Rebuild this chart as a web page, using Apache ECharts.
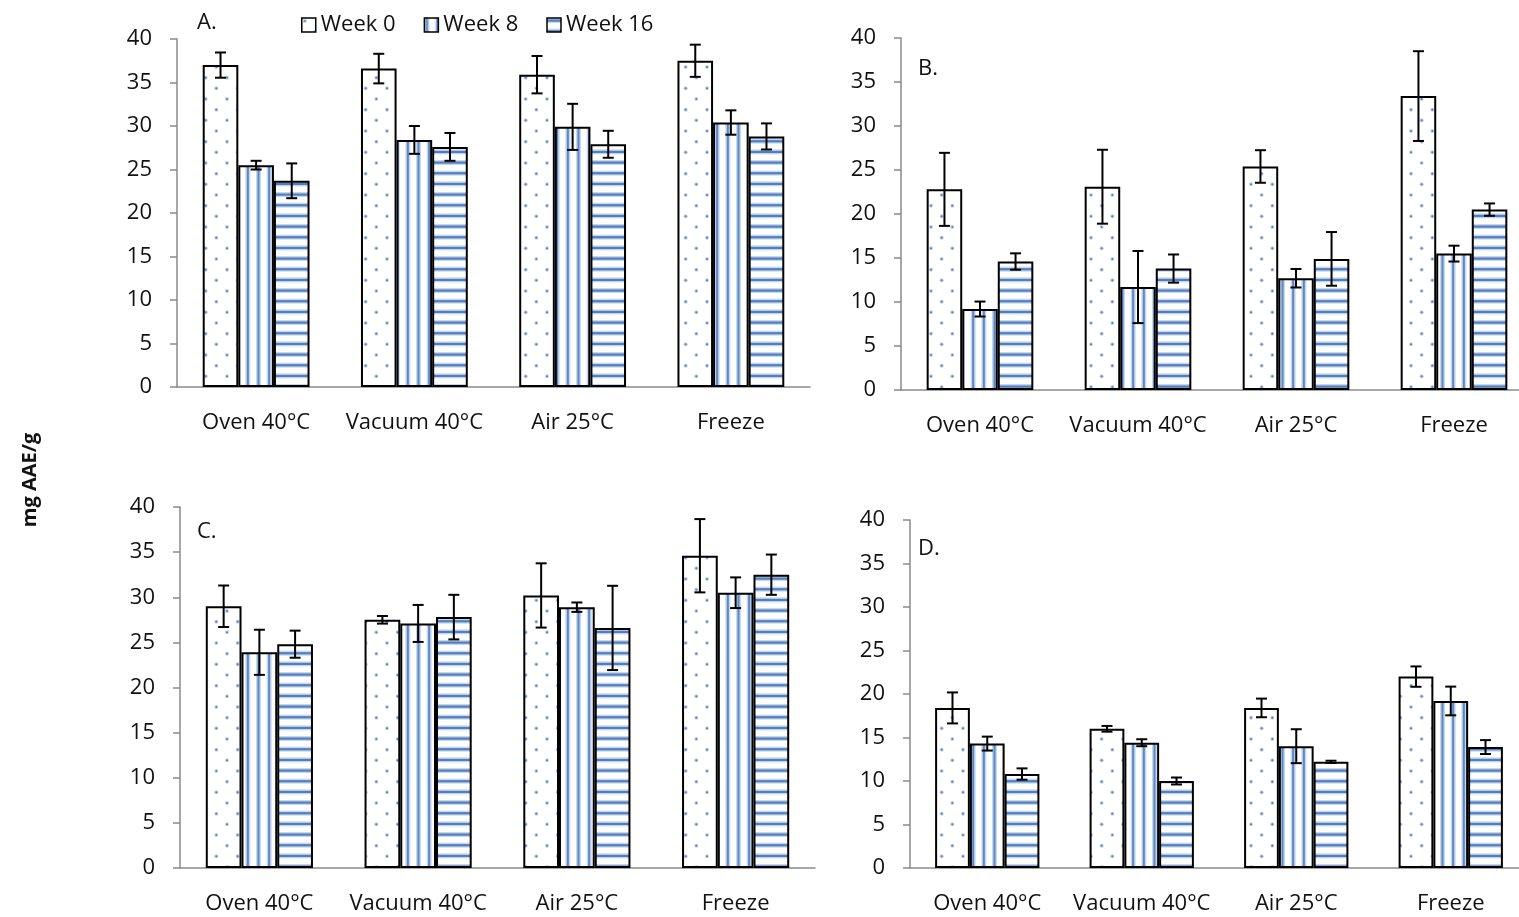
<!DOCTYPE html>
<html>
<head>
<meta charset="utf-8">
<title>mg AAE/g</title>
<script src="https://cdn.jsdelivr.net/npm/echarts@6/dist/echarts.min.js"></script>
<style>
  html, body { margin: 0; padding: 0; background: #fff; overflow: hidden; }
  #main { width: 1540px; height: 917px; }
</style>
</head>
<body>
<div id="main"></div>
<script>
// categories and legend
var categories = ['Oven 40°C', 'Vacuum 40°C', 'Air 25°C', 'Freeze'];
var weeks = ['Week 0', 'Week 8', 'Week 16'];
var yTicks = [0, 5, 10, 15, 20, 25, 30, 35, 40];

// panel A
var aWeek0 = [37.0, 36.6, 35.9, 37.5];
var aWeek8 = [25.5, 28.4, 29.9, 30.4];
var aWeek16 = [23.7, 27.6, 27.9, 28.8];
var aErr0 = [1.45, 1.7, 2.15, 1.85];
var aErr8 = [0.5, 1.6, 2.65, 1.4];
var aErr16 = [2.0, 1.6, 1.55, 1.5];

// panel B
var bWeek0 = [22.8, 23.1, 25.4, 33.4];
var bWeek8 = [9.2, 11.7, 12.7, 15.5];
var bWeek16 = [14.6, 13.8, 14.9, 20.5];
var bErr0 = [4.15, 4.2, 1.85, 5.1];
var bErr8 = [0.85, 4.1, 1.05, 0.9];
var bErr16 = [0.93, 1.6, 3.05, 0.7];

// panel C
var cWeek0 = [29.0, 27.5, 30.2, 34.6];
var cWeek8 = [23.9, 27.1, 28.9, 30.5];
var cWeek16 = [24.8, 27.8, 26.6, 32.5];
var cErr0 = [2.3, 0.42, 3.56, 4.06];
var cErr8 = [2.5, 2.05, 0.52, 1.7];
var cErr16 = [1.5, 2.47, 4.67, 2.23];

// panel D
var dWeek0 = [18.4, 16.0, 18.4, 22.0];
var dWeek8 = [14.3, 14.4, 14.0, 19.2];
var dWeek16 = [10.8, 10.0, 12.2, 13.9];
var dErr0 = [1.78, 0.33, 1.07, 1.17];
var dErr8 = [0.8, 0.4, 1.95, 1.65];
var dErr16 = [0.65, 0.4, 0.13, 0.8];

var panels = [
  { label: 'A.', values: [aWeek0, aWeek8, aWeek16], errors: [aErr0, aErr8, aErr16],
    grid: { left: 177, top: 39, width: 633, height: 348 }, labelPos: [197, 23] },
  { label: 'B.', values: [bWeek0, bWeek8, bWeek16], errors: [bErr0, bErr8, bErr16],
    grid: { left: 901, top: 38, width: 632, height: 352 }, labelPos: [918, 69] },
  { label: 'C.', values: [cWeek0, cWeek8, cWeek16], errors: [cErr0, cErr8, cErr16],
    grid: { left: 180, top: 507, width: 635, height: 361 }, labelPos: [197, 532] },
  { label: 'D.', values: [dWeek0, dWeek8, dWeek16], errors: [dErr0, dErr8, dErr16],
    grid: { left: 910, top: 520, width: 618, height: 348 }, labelPos: [918, 549] }
];

var FONT = '"Open Sans", sans-serif';
var GAP = 0.325;
var step = 32 / 3;

// fill patterns (dots, vertical stripes, horizontal stripes)
function makeTile(draw) {
  var c = document.createElement('canvas');
  c.width = 64; c.height = 64;
  var ctx = c.getContext('2d');
  ctx.fillStyle = '#fff';
  ctx.fillRect(0, 0, 64, 64);
  draw(ctx);
  return c;
}
var dotTile = makeTile(function (ctx) {
  for (var r = 0; r < 6; r++) {
    for (var k = 0; k < 3; k++) {
      var x = k * 2 * step + (r % 2) * step + 3;
      var y = r * step + 3;
      ctx.fillStyle = 'rgba(79,129,189,0.35)';
      ctx.beginPath(); ctx.arc(x, y, 2, 0, Math.PI * 2); ctx.fill();
      ctx.fillStyle = 'rgba(79,129,189,0.9)';
      ctx.beginPath(); ctx.arc(x, y, 1.1, 0, Math.PI * 2); ctx.fill();
    }
  }
});
var vTile = makeTile(function (ctx) {
  for (var k = 0; k < 6; k++) {
    var x = k * step + 2;
    ctx.fillStyle = '#c6d6ec';
    ctx.fillRect(x - 2, 0, 5, 64);
    ctx.fillStyle = '#5b87c2';
    ctx.fillRect(x - 0.5, 0, 2, 64);
  }
});
var hTile = makeTile(function (ctx) {
  for (var k = 0; k < 6; k++) {
    var y = k * step + 2;
    ctx.fillStyle = '#c6d6ec';
    ctx.fillRect(0, y - 2, 64, 5);
    ctx.fillStyle = '#4f7fbd';
    ctx.fillRect(0, y - 0.5, 64, 2.2);
  }
});
var fills = [
  { image: dotTile, repeat: 'repeat' },
  { image: vTile, repeat: 'repeat' },
  { image: hTile, repeat: 'repeat' }
];

function errRender(idx) {
  return function (params, api) {
    var ci = api.value(0), v = api.value(1), e = api.value(2);
    var catW = api.size([1, 0])[0];
    var bw = catW * (1 - GAP) / 3;
    var cx = api.coord([ci, v])[0] + (idx - 1) * bw;
    var yTop = api.coord([ci, v + e])[1];
    var yBot = api.coord([ci, v - e])[1];
    var cap = 5.5;
    var st = { stroke: '#000', lineWidth: 2 };
    return {
      type: 'group',
      children: [
        { type: 'line', shape: { x1: cx, y1: yTop, x2: cx, y2: yBot }, style: st },
        { type: 'line', shape: { x1: cx - cap, y1: yTop, x2: cx + cap, y2: yTop }, style: st },
        { type: 'line', shape: { x1: cx - cap, y1: yBot, x2: cx + cap, y2: yBot }, style: st }
      ]
    };
  };
}

var grids = [], xAxes = [], yAxes = [], series = [], graphics = [];
panels.forEach(function (p, pi) {
  grids.push(p.grid);
  xAxes.push({
    type: 'category', gridIndex: pi, data: categories,
    axisLine: { lineStyle: { color: '#8a8a8a', width: 1.5 } },
    axisTick: { show: false },
    axisLabel: { interval: 0, color: '#111', fontFamily: FONT, fontSize: 22, margin: 25 }
  });
  yAxes.push({
    type: 'value', gridIndex: pi, min: yTicks[0], max: yTicks[yTicks.length - 1],
    interval: yTicks[1] - yTicks[0],
    splitLine: { show: false },
    axisLine: { show: true, lineStyle: { color: '#8a8a8a', width: 1.5 } },
    axisTick: { show: true, length: 7, lineStyle: { color: '#8a8a8a', width: 1.5 } },
    axisLabel: { color: '#111', fontFamily: FONT, fontSize: 22, margin: 25 }
  });
  weeks.forEach(function (w, wi) {
    series.push({
      type: 'bar', name: w, xAxisIndex: pi, yAxisIndex: pi,
      data: p.values[wi],
      barGap: '0%', barCategoryGap: (GAP * 100) + '%',
      itemStyle: { color: fills[wi], borderColor: '#000', borderWidth: 2 },
      emphasis: { disabled: true }
    });
    series.push({
      type: 'custom', name: w + ' err', xAxisIndex: pi, yAxisIndex: pi,
      renderItem: errRender(wi), z: 10,
      encode: { x: 0, y: 1 },
      data: p.values[wi].map(function (v, i) { return [i, v, p.errors[wi][i]]; })
    });
  });
  graphics.push({
    type: 'text', x: p.labelPos[0], y: p.labelPos[1],
    style: { text: p.label, font: '22px ' + FONT, fill: '#111', verticalAlign: 'middle' }
  });
});

graphics.push({
  type: 'text', x: 30, y: 480, rotation: Math.PI / 2,
  style: { text: 'mg AAE/g', font: 'bold 20px ' + FONT, fill: '#111', align: 'center', verticalAlign: 'middle' }
});

var chart = echarts.init(document.getElementById('main'));
chart.setOption({
  animation: false,
  backgroundColor: '#fff',
  grid: grids,
  xAxis: xAxes,
  yAxis: yAxes,
  legend: {
    data: weeks, left: 296, top: 9, itemWidth: 14, itemHeight: 14, itemGap: 28,
    icon: 'rect',
    itemStyle: { borderColor: '#000', borderWidth: 1.5 },
    textStyle: { fontFamily: FONT, fontSize: 22, color: '#111' }
  },
  series: series,
  graphic: graphics
});
</script>
</body>
</html>
